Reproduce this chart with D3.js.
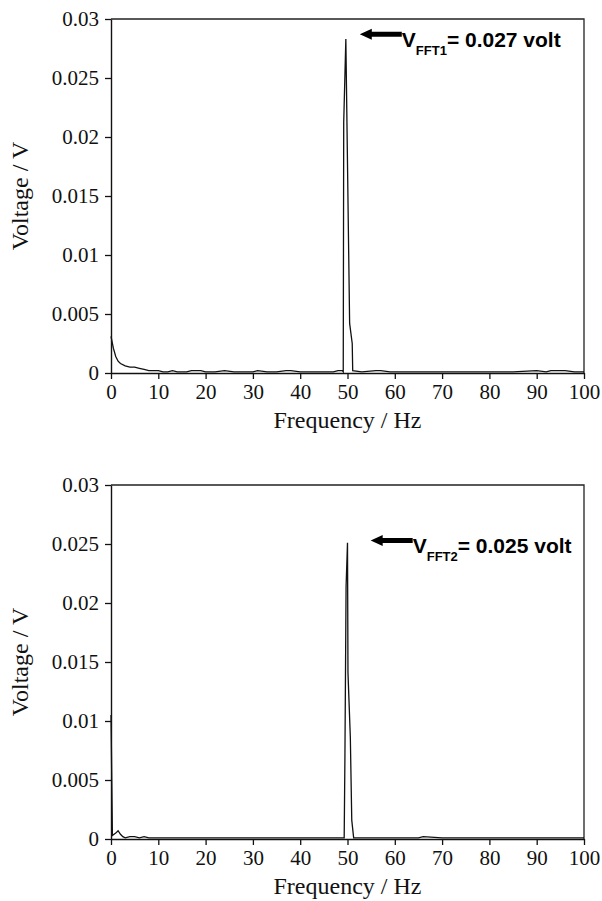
<!DOCTYPE html>
<html>
<head>
<meta charset="utf-8">
<script src="https://cdn.jsdelivr.net/npm/d3@7"></script>
<style>
  body { margin: 0; background: #fff; }
  svg { display: block; }
  .tick text { font-family: "Liberation Serif", "Times New Roman", serif; font-size: 21px; fill: #111; }
  .title { font-family: "Liberation Serif", "Times New Roman", serif; font-size: 24px; fill: #111; }
  .note { font-family: "Liberation Sans", Arial, sans-serif; font-weight: bold; fill: #000; }
</style>
</head>
<body>
<div id="chart"></div>
<script>
// Spectrum 1 (upper panel): frequency in Hz, amplitude in volts
const freq1 = [0, 0.5, 1, 1.5, 2, 3, 4, 5, 6, 7, 8, 9, 10, 11, 12, 13, 14, 16, 17, 18, 19, 20,
  22, 24, 26, 28, 30, 31, 33, 35, 37, 38, 40, 44, 47, 48, 48.9, 49.1, 49.2, 49.65, 50.45, 51.0,
  51.1, 53, 56, 57, 59, 62, 66, 70, 75, 80, 85, 90, 92, 93, 94, 95, 96, 98, 100];
const volt1 = [0.0031, 0.0021, 0.0014, 0.0010, 0.0008, 0.0006, 0.0005, 0.0005, 0.0004, 0.0003,
  0.0002, 0.0002, 0.0002, 0.0001, 0.0001, 0.0002, 0.0001, 0.0001, 0.0002, 0.0002, 0.0002, 0.0001,
  0.0001, 0.0002, 0.0001, 0.0001, 0.0001, 0.0002, 0.0001, 0.0001, 0.0002, 0.0002, 0.0001, 0.0001,
  0.0001, 0.0002, 0.0002, 0.0001, 0.0212, 0.0283, 0.0042, 0.0025, 0.0002, 0.0001, 0.0002, 0.0002,
  0.0001, 0.0001, 0.0001, 0.0001, 0.0001, 0.0001, 0.0001, 0.0002, 0.0001, 0.0002, 0.0002, 0.0002,
  0.0002, 0.0001, 0.0001];

// Spectrum 2 (lower panel)
const freq2 = [0, 0.3, 1, 1.5, 2, 2.5, 3, 4, 5, 6, 7, 8, 10, 12, 15, 18, 20, 25, 30, 35, 40, 45,
  48.5, 49.3, 49.45, 49.7, 50.0, 50.1, 50.6, 50.9, 51.3, 53, 56, 60, 65, 66, 70, 75, 80, 85, 90,
  95, 100];
const volt2 = [0.0105, 0.0003, 0.0005, 0.0007, 0.0004, 0.0002, 0.0001, 0.0002, 0.0002, 0.0001,
  0.0002, 0.0001, 0.0001, 0.0001, 0.0001, 0.0001, 0.0001, 0.0001, 0.0001, 0.0001, 0.0001, 0.0001,
  0.0001, 0.0001, 0.0067, 0.0214, 0.0251, 0.0141, 0.0086, 0.0016, 0.0001, 0.0001, 0.0001, 0.0001,
  0.0001, 0.0002, 0.0001, 0.0001, 0.0001, 0.0001, 0.0001, 0.0001, 0.0001];

const xTicks = [0, 10, 20, 30, 40, 50, 60, 70, 80, 90, 100];
const yTicks = [0, 0.005, 0.01, 0.015, 0.02, 0.025, 0.03];

// Annotations
const notes = [
  { sub: 'FFT1', text: '= 0.027 volt', at: [52.6, 0.0287] },
  { sub: 'FFT2', text: '= 0.025 volt', at: [54.9, 0.0253] }
];

const width = 602, height = 901;
const left = 111, right = 584;

const svg = d3.select('#chart').append('svg')
  .attr('width', width)
  .attr('height', height);

const x = d3.scaleLinear().domain([0, 100]).range([left, right]);

function panel(top, bottom, fx, vy, note) {
  const y = d3.scaleLinear().domain([0, 0.03]).range([bottom, top]);
  const g = svg.append('g');

  // frame top and right
  g.append('path')
    .attr('d', `M${left},${top}H${right}V${bottom}`)
    .attr('fill', 'none')
    .attr('stroke', '#222')
    .attr('stroke-width', 1.3);

  // axes
  const xAxis = g.append('g')
    .attr('transform', `translate(0,${bottom})`)
    .call(d3.axisBottom(x).tickValues(xTicks).tickSize(6).tickSizeOuter(0).tickPadding(5));
  const yAxis = g.append('g')
    .attr('transform', `translate(${left},0)`)
    .call(d3.axisLeft(y).tickValues(yTicks).tickSize(6).tickSizeOuter(0).tickPadding(6)
      .tickFormat(d => d === 0 ? '0' : String(+d.toFixed(3))));
  [xAxis, yAxis].forEach(a => {
    a.select('.domain').attr('stroke', '#111').attr('stroke-width', 1.4);
    a.selectAll('.tick line').attr('stroke', '#111').attr('stroke-width', 1.3);
  });

  // spectrum line
  const pts = fx.map((f, i) => [f, vy[i]]);
  g.append('path')
    .datum(pts)
    .attr('fill', 'none')
    .attr('stroke', '#111')
    .attr('stroke-width', 1.3)
    .attr('d', d3.line().x(d => x(d[0])).y(d => y(d[1])));

  // axis titles
  g.append('text')
    .attr('class', 'title')
    .attr('x', (left + right) / 2)
    .attr('y', bottom + 55)
    .attr('text-anchor', 'middle')
    .text('Frequency / Hz');
  g.append('text')
    .attr('class', 'title')
    .attr('transform', `translate(28,${(top + bottom) / 2}) rotate(-90)`)
    .attr('text-anchor', 'middle')
    .text('Voltage / V');

  // arrow + label
  const ax = x(note.at[0]), ay = y(note.at[1]);
  g.append('path')
    .attr('d', `M${ax},${ay} L${ax + 12},${ay - 5.5} L${ax + 12},${ay - 2.5} L${ax + 42},${ay - 2.5}
      L${ax + 42},${ay + 2.5} L${ax + 12},${ay + 2.5} L${ax + 12},${ay + 5.5} Z`)
    .attr('fill', '#000');
  const t = g.append('text')
    .attr('class', 'note')
    .attr('x', ax + 42)
    .attr('y', ay + 13)
    .style('font-size', '21px');
  t.append('tspan').text('V');
  t.append('tspan').attr('dy', 8).style('font-size', '13px').text(note.sub);
  t.append('tspan').attr('dy', -8).text(note.text);
}

panel(19, 373, freq1, volt1, notes[0]);
panel(485, 839, freq2, volt2, notes[1]);
</script>
</body>
</html>
